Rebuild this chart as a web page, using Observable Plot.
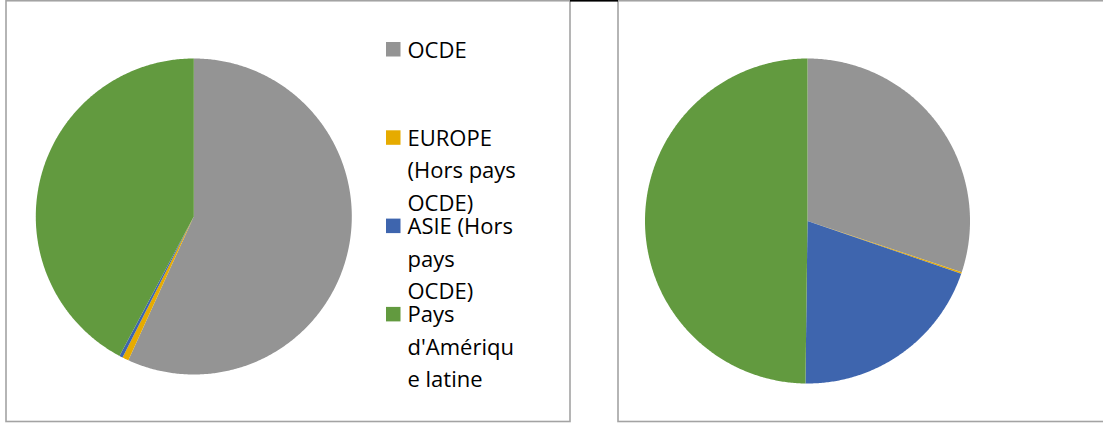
<!DOCTYPE html>
<html>
<head>
<meta charset="utf-8">
<script src="https://cdn.jsdelivr.net/npm/d3@7"></script>
<script src="https://cdn.jsdelivr.net/npm/@observablehq/plot@0.6"></script>
<style>
  html, body { margin: 0; padding: 0; background: #fff; overflow: hidden; }
  #chart svg { display: block; }
</style>
</head>
<body>
<div id="chart"></div>
<script>
// ---- Data ----
const categories = ["OCDE", "EUROPE (Hors pays OCDE)", "ASIE (Hors pays OCDE)", "Pays d'Amérique latine"];
const legendLines = [
  ["OCDE"],
  ["EUROPE", "(Hors pays", "OCDE)"],
  ["ASIE (Hors", "pays", "OCDE)"],
  ["Pays", "d'Amériqu", "e latine"]
];
const valuesLeft  = [56.8, 0.65, 0.35, 42.2];
const valuesRight = [30.1, 0.15, 19.95, 49.8];
const colors = ["#949494", "#E6AB00", "#3E65AE", "#629A3F"];

// ---- Layout ----
const W = 1103, H = 423;
const pies = [
  {name: "left",  values: valuesLeft,  cx: 193.3, cy: 216,   r: 158},
  {name: "right", values: valuesRight, cx: 807,   cy: 220.5, r: 162.5}
];

// Build slice polygons from the data with d3.pie (angles clockwise from 12 o'clock)
const slicePoints = [];
for (const p of pies) {
  const arcs = d3.pie().sort(null).value(d => d)(p.values);
  arcs.forEach((a, i) => {
    const key = p.name + "-" + i;
    const cat = categories[i];
    slicePoints.push({key, cat, x: p.cx, y: p.cy});
    const n = Math.max(2, Math.ceil((a.endAngle - a.startAngle) / (Math.PI / 360)));
    for (let k = 0; k <= n; ++k) {
      const t = a.startAngle + (a.endAngle - a.startAngle) * k / n;
      slicePoints.push({key, cat, x: p.cx + p.r * Math.sin(t), y: p.cy - p.r * Math.cos(t)});
    }
    slicePoints.push({key, cat, x: p.cx, y: p.cy});
  });
}

// Legend rows
const legendX = 386, textX = 407, firstBaseline = 57, groupStep = 88.3, lineStep = 32.5;
const legendSquares = categories.map((c, i) => {
  const b = firstBaseline + i * groupStep;
  return {cat: c, x1: legendX, x2: legendX + 14.5, y1: b - 15, y2: b - 0.5};
});
const legendText = [];
legendLines.forEach((lines, i) => {
  const b = firstBaseline + i * groupStep;
  lines.forEach((t, j) => legendText.push({t, x: textX, y: b + j * lineStep}));
});

const panels = [
  {x1: 6, x2: 570, y1: 0.75, y2: 421.5},
  {x1: 618, x2: 1120, y1: 0.75, y2: 421.5}
];

const chart = Plot.plot({
  width: W,
  height: H,
  margin: 0,
  x: {domain: [0, W], range: [0, W], axis: null},
  y: {domain: [0, H], range: [0, H], axis: null},
  color: {domain: categories, range: colors},
  style: {background: "#fff", fontFamily: "'Open Sans', sans-serif"},
  marks: [
    Plot.rect(panels, {x1: "x1", x2: "x2", y1: "y1", y2: "y2", fill: "none", stroke: "#a3a3a3", strokeWidth: 1.6}),
    Plot.rect([{x1: 570, x2: 618, y1: 0, y2: 1.6}], {x1: "x1", x2: "x2", y1: "y1", y2: "y2", fill: "#000"}),
    Plot.line(slicePoints, {x: "x", y: "y", z: "key", fill: "cat", stroke: null, curve: "linear"}),
    Plot.rect(legendSquares, {x1: "x1", x2: "x2", y1: "y1", y2: "y2", fill: "cat"}),
    Plot.text(legendText, {x: "x", y: "y", text: "t", textAnchor: "start", lineAnchor: "bottom", fontSize: 22, fill: "#000"})
  ]
});

document.getElementById("chart").appendChild(chart);
</script>
</body>
</html>
